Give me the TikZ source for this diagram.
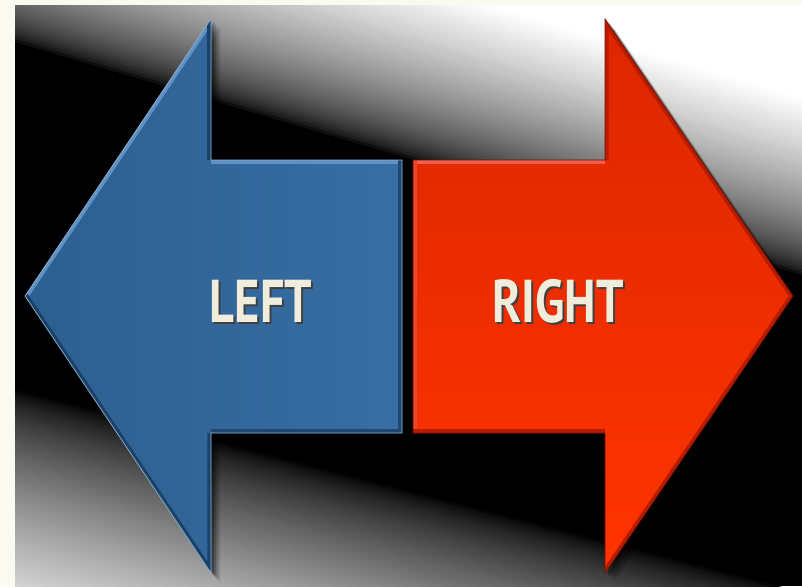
\documentclass[tikz,border=0pt]{standalone}
\usepackage{fontspec}
\setmainfont{PT Sans}
\definecolor{cpaper}{RGB}{250,250,241}
\definecolor{cblue}{RGB}{44,95,145}
\definecolor{cbluert}{RGB}{56,110,163}
\definecolor{cbluelt}{RGB}{95,145,195}
\definecolor{cbluedk}{RGB}{28,66,104}
\definecolor{cred}{RGB}{220,38,0}
\definecolor{credbot}{RGB}{255,52,0}
\definecolor{credlt}{RGB}{240,95,80}
\definecolor{creddk}{RGB}{165,22,0}
\definecolor{ctext}{RGB}{241,237,220}
\tikzset{arrowpic/.style={x=0.25mm,y=0.25mm},
  leftshape/.style={insert path={(25,290) -- (211,567) -- (211,426) -- (402,426) -- (402,153) -- (211,153) -- (211,13) -- cycle}},
  rightshape/.style={insert path={(413,426) -- (605,426) -- (605,567) -- (793,290) -- (605,13) -- (605,153) -- (413,153) -- cycle}},
  bevel/.style={line width=5pt,line join=miter},
  arrowlabel/.style={font=\fontsize{43}{43}\selectfont\bfseries,inner sep=0pt}}

\begin{document}
\begin{tikzpicture}[arrowpic]
    \fill[cpaper] (0,0) rectangle (802,586);
    \useasboundingbox (0,0) rectangle (802,586);
    \begin{scope}
      \clip (15,0) rectangle (802,580);
      \fill[black] (15,0) rectangle (802,580);
      % light band above
      \begin{scope}[shift={(15,544)},rotate=-16.5]
        \foreach \d in {0,3,...,360} {
          \pgfmathsetmacro\g{100*(1-min(1,(\d+1.5)/170)^0.6)}
          \fill[black!\g] (-300,\d) rectangle (1200,\d+3.6);
        }
      \end{scope}
      % light band below
      \begin{scope}[shift={(15,196)},rotate=-14.4]
        \foreach \d in {0,3,...,360} {
          \pgfmathsetmacro\g{100*(1-min(1,(\d+1.5)/250)^0.7)}
          \fill[black!\g] (-300,-\d) rectangle (1200,-\d-3.6);
        }
      \end{scope}
    \end{scope}
    \foreach \s/\o in {9/0.12,7/0.15,5/0.2,3/0.3} {
      \fill[black,opacity=\o,shift={(\s,-\s)},leftshape];
      \fill[black,opacity=\o,shift={(\s,-\s)},rightshape];
    }
    \shade[left color=cblue,right color=cbluert,leftshape];
    \shade[top color=cred,bottom color=credbot,rightshape];
    \begin{scope}
      \clip[leftshape];
      \draw[bevel,cbluelt] (25,290) -- (211,567);
      \draw[bevel,cbluelt] (211,426) -- (402,426);
      \draw[bevel,cbluedk] (211,567) -- (211,426);
      \draw[bevel,cbluedk] (25,290) -- (211,13) -- (211,153);
      \draw[bevel,cbluedk!80!cblue] (402,426) -- (402,153) -- (211,153);
    \end{scope}
    \begin{scope}
      \clip[rightshape];
      \draw[bevel,credlt] (413,426) -- (605,426);
      \draw[bevel,credlt!60!cred] (413,426) -- (413,153);
      \draw[bevel,creddk!65!cred] (605,426) -- (605,567) -- (793,290) -- (605,13);
      \draw[bevel,creddk!65!cred] (605,153) -- (413,153);
    \end{scope}
    \draw[cbluelt!70!white,line width=0.5pt,leftshape];
    \draw[creddk!70!black,line width=0.5pt,rightshape];
    \node[arrowlabel,text=black!75] (leftshd) at (263,283) {\scalebox{0.8}[1]{LEFT}};
    \node[arrowlabel,text=ctext] (lefttxt) at (261,285) {\scalebox{0.8}[1]{LEFT}};
    \node[arrowlabel,text=black!75] (rightshd) at (560,283) {\scalebox{0.8}[1]{RIGHT}};
    \node[arrowlabel,text=ctext] (righttxt) at (558,285) {\scalebox{0.8}[1]{RIGHT}};
\end{tikzpicture}
\end{document}
